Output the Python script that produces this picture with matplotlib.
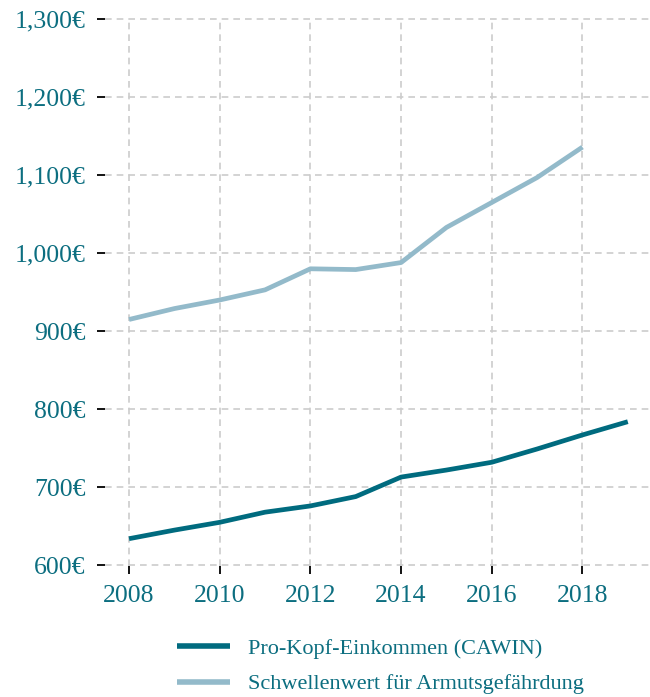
import matplotlib
matplotlib.use("Agg")
import matplotlib.pyplot as plt
from matplotlib.ticker import FuncFormatter

# ── Data ──────────────────────────────────────────────────────────────────────
years_income = [2008, 2009, 2010, 2011, 2012, 2013, 2014, 2015, 2016, 2017, 2018, 2019]
income = [634, 645, 655, 668, 676, 688, 713, 722, 732, 749, 767, 784]

years_threshold = [2008, 2009, 2010, 2011, 2012, 2013, 2014, 2015, 2016, 2017, 2018]
threshold = [915, 929, 940, 953, 980, 979, 988, 1033, 1065, 1097, 1136]

x_ticks = [2008, 2010, 2012, 2014, 2016, 2018]
y_ticks = [600, 700, 800, 900, 1000, 1100, 1200, 1300]

labels = ["Pro-Kopf-Einkommen (CAWIN)", "Schwellenwert für Armutsgefährdung"]

# ── Style ─────────────────────────────────────────────────────────────────────
DARK = "#006B7F"
LIGHT = "#93BACA"
TEXT = "#0C6E80"
GRID = "#CCCCCC"

plt.rcParams["font.family"] = ["Liberation Serif", "DejaVu Serif"]

fig = plt.figure(figsize=(6.5, 6.97), dpi=100)
ax = fig.add_axes([105 / 650, 1 - 566 / 697, 550 / 650, 548 / 697])

ax.plot(years_income, income, color=DARK, lw=3.4, label=labels[0],
        solid_capstyle="butt", zorder=3)
ax.plot(years_threshold, threshold, color=LIGHT, lw=3.4, label=labels[1],
        solid_capstyle="butt", zorder=3)

ax.set_xlim(2007.47, 2019.6)
ax.set_ylim(599, 1301.5)
ax.set_xticks(x_ticks)
ax.set_yticks(y_ticks)
ax.yaxis.set_major_formatter(FuncFormatter(lambda v, _: f"{v:,.0f}€"))

ax.grid(True, color=GRID, lw=1.2, ls=(0, (4, 3)), zorder=0)
for s in ax.spines.values():
    s.set_visible(False)

ax.tick_params(axis="both", colors="black", labelcolor=TEXT, length=6,
               width=1.3, labelsize=18.5)
ax.tick_params(axis="y", pad=8)
ax.tick_params(axis="x", pad=8)

leg = fig.legend(loc="lower center", bbox_to_anchor=(0.585, -0.025), ncol=1,
                 frameon=False, fontsize=16, handlelength=2.4,
                 handletextpad=0.8, labelspacing=0.68, labelcolor=TEXT)
for h in leg.get_lines():
    h.set_linewidth(4)

fig.savefig("out.png", dpi=100)
